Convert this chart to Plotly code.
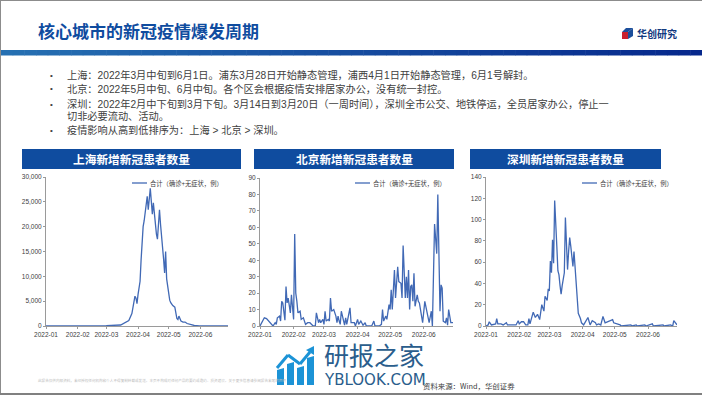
import pandas as pd
import plotly.graph_objects as go

W, H = 702, 395
START = pd.Timestamp("2022-01-01")

# ---- data: days since 2022-01-01, and daily new cases ----
sh_days = [0, 30, 59, 73, 78, 81, 84, 86, 87, 88, 89, 90, 91, 92, 93, 94, 95, 96, 97, 98, 99, 100, 101, 102, 103, 104, 105, 106, 107, 108, 109, 110, 111, 112, 113, 114, 115, 116, 117, 118, 119, 120, 121, 122, 124, 126, 127, 128, 129, 130, 131, 132, 134, 136, 138, 141, 145, 150, 178]
sh_vals = [0, 0, 60, 200, 700, 1100, 2500, 4400, 6000, 5600, 4500, 6300, 8200, 9000, 13300, 17000, 20000, 21200, 23100, 24900, 26100, 23400, 25100, 27700, 25100, 22500, 24800, 22200, 19500, 18500, 17500, 20600, 23400, 20500, 18500, 15800, 13500, 10700, 15000, 9500, 8000, 6500, 5200, 4700, 4100, 3800, 2800, 1500, 1300, 2000, 1500, 1000, 800, 800, 500, 300, 100, 0, 0]

bj_days = [0, 2, 4, 6, 8, 10, 12, 14, 15, 16, 18, 19, 20, 21, 23, 24, 25, 26, 28, 29, 31, 32, 33, 34, 35, 37, 38, 40, 42, 44, 46, 49, 51, 52, 54, 55, 56, 58, 59, 60, 61, 63, 64, 65, 66, 68, 70, 71, 72, 73, 74, 75, 77, 78, 79, 80, 83, 84, 87, 88, 90, 91, 93, 95, 97, 98, 103, 105, 106, 110, 112, 113, 114, 116, 117, 119, 120, 121, 122, 124, 125, 127, 128, 130, 131, 132, 134, 135, 136, 137, 138, 139, 140, 141, 142, 143, 145, 146, 147, 149, 150, 152, 154, 156, 158, 159, 161, 163, 164, 166, 167, 168, 169, 171, 172, 173, 174, 176, 178]
bj_vals = [0, 3, 5, 4.5, 3, 1, 0, 2, 1, 5, 6, 3, 15, 14, 3.5, 24, 14, 17, 8, 19, 4, 56, 20, 15, 8, 9, 4, 5, 1, 2, 2, 0, 0, 8, 2, 4, 2, 4, 1, 9, 3, 4, 3, 17, 9, 10, 6, 2, 6, 3, 1, 9, 3, 0.5, 5, 1, 11, 2, 2, 0, 4, 1, 3, 0.5, 2, 0, 0, 3, 0, 0, 1, 10, 3, 6, 4, 13, 10, 22, 10, 34, 17, 36, 27, 26, 17, 49, 17, 30, 17, 34, 10, 24, 25, 15, 32, 12, 19, 15, 14, 5, 2, 15, 8, 2, 9, 0, 62, 44, 80, 9, 25, 23, 3, 2, 5, 0.5, 10, 2, 2]

sz_days = [0, 2, 3, 5, 9, 10, 11, 14, 16, 19, 20, 24, 28, 30, 31, 33, 35, 37, 39, 40, 41, 44, 46, 48, 50, 52, 54, 55, 57, 58, 59, 60, 61, 62, 63, 64, 65, 66, 67, 68, 69, 70, 71, 72, 73, 74, 75, 76, 77, 78, 79, 81, 82, 84, 85, 86, 88, 89, 91, 93, 95, 97, 99, 102, 103, 105, 107, 109, 111, 118, 119, 125, 126, 135, 136, 140, 141, 148, 149, 155, 156, 165, 166, 172, 174, 175, 178]
sz_vals = [0, 1, 4, 1, 2, 7, 2, 2, 1, 3, 1, 1, 1, 5, 2, 4, 4, 1, 1, 7, 2, 13, 8, 11, 6, 20, 14, 28, 24, 35, 33, 61, 50, 81, 59, 118, 85, 75, 52, 48, 38, 30, 38, 45, 50, 102, 75, 53, 70, 83, 75, 56, 70, 40, 25, 12, 7, 3, 1, 4, 8, 1, 5, 3, 1, 2, 1, 9, 3, 6, 3, 1, 0, 1, 0, 1, 0, 1, 0, 2, 0, 1, 0, 1, 0, 5, 1]
sz_days = sz_days[:len(sz_vals)]

month_ticks = ["2022-01-01", "2022-02-01", "2022-03-01", "2022-04-01", "2022-05-01", "2022-06-01"]
month_labels = ["2022-01", "2022-02", "2022-03", "2022-04", "2022-05", "2022-06"]
legend_name = "合计（确诊+无症状，例）"
page_title = "核心城市的新冠疫情爆发周期"
chart_titles = ["上海新增新冠患者数量", "北京新增新冠患者数量", "深圳新增新冠患者数量"]
bullets = [
    "上海：2022年3月中旬到6月1日。浦东3月28日开始静态管理，浦西4月1日开始静态管理，6月1号解封。",
    "北京：2022年5月中旬、6月中旬。各个区会根据疫情安排居家办公，没有统一封控。",
    "深圳：2022年2月中下旬到3月下旬。3月14日到3月20日（一周时间），深圳全市公交、地铁停运，全员居家办公，停止一",
    "疫情影响从高到低排序为：上海 > 北京 > 深圳。",
]
bullet_wrap = "切非必要流动、活动。"
source_note = "资料来源：Wind，华创证券"
disclaimer = "此报告仅供内部资料，未经授权任何机构和个人不得复制转载或发送。本页不构成对任何产品的要约或邀约、投资建议。关于更多信息请参阅报告末尾的声明"

CJK = "Noto Sans CJK SC"
LAT = "Liberation Sans"
MIX = "Liberation Sans, Noto Sans CJK SC"
BLUE = "#0F4C9F"
LINE = "#4169B5"


def px(x):
    return x / W


def py(y):
    return 1 - y / H


def rect(x0, y0, x1, y1, color):
    return dict(type="rect", xref="paper", yref="paper", x0=px(x0), x1=px(x1),
                y0=py(y1), y1=py(y0), fillcolor=color, line_width=0, layer="below")


def poly(points, color):
    d = "M " + " L ".join(f"{px(a):.5f},{py(b):.5f}" for a, b in points) + " Z"
    return dict(type="path", xref="paper", yref="paper", path=d, fillcolor=color, line_width=0)


def seg(a, b, c, d, color, width):
    return dict(type="line", xref="paper", yref="paper", x0=px(a), y0=py(b), x1=px(c), y1=py(d),
                line=dict(color=color, width=width))


def text(x, y, s, size, color, font=CJK, anchor="left", bold=False):
    return dict(xref="paper", yref="paper", x=px(x), y=py(y), text=f"<b>{s}</b>" if bold else s,
                showarrow=False, xanchor=anchor, yanchor="middle", align="left",
                font=dict(family=font, size=size, color=color))


fig = go.Figure()
series = [(sh_days, sh_vals), (bj_days, bj_vals), (sz_days, sz_vals)]
plot_boxes = [(46, 228, 177, 326), (260, 453, 178, 326), (486, 677, 177, 326)]
y_axes = [(30000, 5000, ",.0f"), (90, 10, "d"), (140, 20, "d")]
legend_x = [132, 355, 582]
end = START + pd.Timedelta(days=178)

for i, ((days, vals), box, ya) in enumerate(zip(series, plot_boxes, y_axes)):
    sfx = "" if i == 0 else str(i + 1)
    fig.add_trace(go.Scatter(
        x=[START + pd.Timedelta(days=d) for d in days], y=vals, mode="lines", name=legend_name,
        line=dict(color=LINE, width=1.3), xaxis=f"x{sfx}", yaxis=f"y{sfx}",
        showlegend=False, hoverinfo="skip"))
    axis_common = dict(showgrid=False, zeroline=False, showline=True, linecolor="#9a9a9a", linewidth=1,
                       ticks="outside", ticklen=2, tickcolor="#9a9a9a", tickwidth=1,
                       tickfont=dict(family=LAT, size=6.5, color="#404040"))
    fig.update_layout({
        f"xaxis{sfx}": dict(domain=[px(box[0]), px(box[1])], anchor=f"y{sfx}", type="date",
                            range=[START, end], tickvals=month_ticks, ticktext=month_labels, **axis_common),
        f"yaxis{sfx}": dict(domain=[py(box[3]), py(box[2])], anchor=f"x{sfx}", range=[0, ya[0]],
                            dtick=ya[1], tick0=0, tickformat=ya[2], **axis_common),
    })

shapes = [
    rect(0, 0, W, 1, "#8c8c8c"), rect(0, 0, 1, H, "#8c8c8c"), rect(0, 393, W, H, "#808080"),
]
# header gradient bar
N = 60
c0, c1 = (38, 112, 178), (6, 40, 140)
for k in range(N):
    t = k / (N - 1)
    col = "rgb(%d,%d,%d)" % tuple(round(a + (b - a) * t) for a, b in zip(c0, c1))
    shapes.append(rect(1 + (W - 1) * k / N, 50, 1 + (W - 1) * (k + 1) / N + 0.5, 55.5, col))
# chart title bands
bands = [(22, 241), (254, 454), (470, 661)]
for a, b in bands:
    shapes.append(rect(a, 149, b, 169, BLUE))
# legend keys
for lx in legend_x:
    shapes.append(seg(lx, 183, lx + 15, 183, LINE, 1.3))
# logo
shapes += [
    poly([(622, 32), (628, 32), (628, 39), (622, 39)], "#C8202F"),
    poly([(622, 32), (626, 28), (633, 28), (628, 32)], "#1B4E9B"),
    poly([(628, 32), (633, 28), (633, 36), (628, 39)], "#1B4E9B"),
]
# watermark logo
WM = "#1C93D6"
for a, top in [(277, 370), (287, 364), (297, 368), (307, 358)]:
    shapes.append(poly([(a, top), (a + 7, top - 2), (a + 7, 385), (a, 385)], WM))
shapes += [
    seg(277, 368, 288, 355, WM, 3), seg(288, 355, 300, 364, WM, 3), seg(300, 364, 310, 352, WM, 3),
    poly([(306, 350), (314, 346), (314, 355)], WM),
]

ann = [
    text(36, 31, page_title, 17, BLUE, bold=True),
    text(635, 33, "华创研究", 10, "#12397F", bold=True),
]
bullet_y = [75, 89, 104, 130]
for y, s in zip(bullet_y, bullets):
    ann.append(text(48, y, "•", 8, "#404040", font=LAT))
    ann.append(text(65, y, s, 10.2, "#404040", font=MIX))
ann.append(text(65, 115.5, bullet_wrap, 10.2, "#404040", font=MIX))
for (a, b), s in zip(bands, chart_titles):
    ann.append(text((a + b) / 2, 159, s, 11.7, "#FFFFFF", anchor="center", bold=True))
for lx in legend_x:
    ann.append(text(lx + 16, 183, legend_name, 6.3, "#404040"))
ann += [
    text(36, 380, disclaimer, 3.6, "#BDBDBD"),
    text(322, 356, "研报之家", 25, "#2A5D8C", font=MIX),
    text(322, 380, "YBLOOK.COM", 15, "#2A5D8C", font="DejaVu Sans"),
    text(421, 385, source_note, 7.4, "#404040"),
]

fig.update_layout(width=W, height=H, margin=dict(l=0, r=0, t=0, b=0, autoexpand=False), paper_bgcolor="white",
                  plot_bgcolor="white", shapes=shapes, annotations=ann)
fig.write_html("out.html", config=dict(displayModeBar=False),
               post_script="document.body.style.margin='0';document.body.style.overflow='hidden';")
